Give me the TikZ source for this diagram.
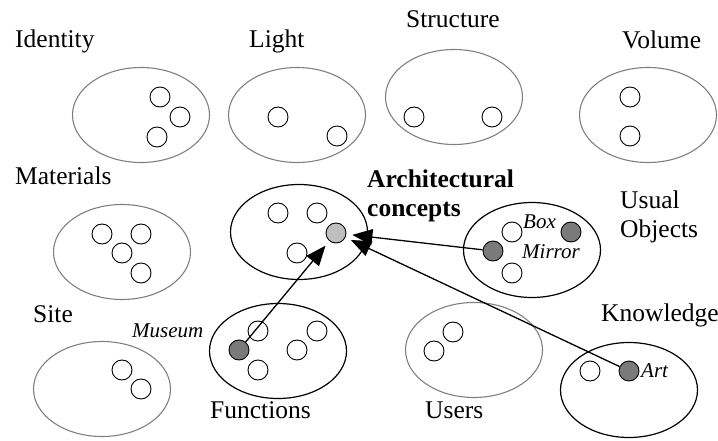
\documentclass[tikz,border=0pt]{standalone}
\usepackage{fontspec}
\setmainfont{Liberation Serif}
\usetikzlibrary{shapes.geometric,arrows.meta}

\tikzset{
  cset/.style={ellipse, draw=black!50, line width=1.1pt, inner sep=0pt,
               minimum width=137pt, minimum height=95pt},
  cactive/.style={cset, draw=black, line width=1.2pt},
  cmember/.style={circle, draw=black, line width=0.9pt, inner sep=0pt,
                  minimum size=20pt, fill=white},
  cpicked/.style={cmember, fill=black!52},
  ctarget/.style={cmember, fill=black!25},
  ctitle/.style={anchor=base west, inner sep=0pt,
                 font=\fontsize{25.5}{29}\selectfont},
  cbold/.style={ctitle, font=\fontsize{25.5}{29}\selectfont\bfseries},
  ctag/.style={anchor=base west, inner sep=0pt,
               font=\fontsize{21}{24}\selectfont\itshape},
  clink/.style={line width=1.3pt, shorten >=6pt,
                -{Triangle[length=20pt,width=16pt]}},
}

\begin{document}
\begin{tikzpicture}[x=1pt,y=-1pt]
\useasboundingbox (0,0) rectangle (718,441);

% ---- top row ----
\node[cset] (identity) at (141,115) {};
\node[cmember] (id1) at (160,97) {};
\node[cmember] (id2) at (180,117) {};
\node[cmember] (id3) at (157,137) {};
\node[ctitle] (identityT) at (15,48) {Identity};

\node[cset] (light) at (297,115) {};
\node[cmember] (li1) at (278,117) {};
\node[cmember] (li2) at (337,136) {};
\node[ctitle] (lightT) at (249,48) {Light};

\node[cset] (structure) at (454,97) {};
\node[cmember] (st1) at (414,117) {};
\node[cmember] (st2) at (492,117) {};
\node[ctitle] (structureT) at (406,28) {Structure};

\node[cset] (volume) at (648,115) {};
\node[cmember] (vo1) at (630,97) {};
\node[cmember] (vo2) at (630,136) {};
\node[ctitle] (volumeT) at (622,49) {Volume};

% ---- middle row ----
\node[cset] (materials) at (122,252) {};
\node[cmember] (ma1) at (102,234) {};
\node[cmember] (ma2) at (141,234) {};
\node[cmember] (ma3) at (122,253) {};
\node[cmember] (ma4) at (141,273) {};
\node[ctitle] (materialsT) at (15,185) {Materials};

\node[cactive] (arch) at (299,232) {};
\node[cmember] (ar1) at (278,213) {};
\node[cmember] (ar2) at (317,213) {};
\node[cmember] (ar3) at (297,253) {};
\node[ctarget] (concept) at (336,233) {};
\node[cbold] (archT1) at (367,188) {Architectural};
\node[cbold] (archT2) at (367,217) {concepts};

\node[cactive] (objects) at (532,250) {};
\node[cmember] (ob1) at (512,232) {};
\node[cpicked] (box) at (571,232) {};
\node[cpicked] (mirror) at (493,251) {};
\node[cmember] (ob2) at (512,273) {};
\node[ctag] (boxT) at (523,228) {Box};
\node[ctag] (mirrorT) at (522,258) {Mirror};
\node[ctitle] (objectsT1) at (620,208) {Usual};
\node[ctitle] (objectsT2) at (620,237) {Objects};

% ---- bottom row ----
\node[cset] (site) at (102,389) {};
\node[cmember] (si1) at (122,370) {};
\node[cmember] (si2) at (141,389) {};
\node[ctitle] (siteT) at (33,322) {Site};

\node[cactive] (functions) at (278,351) {};
\node[cmember] (fu1) at (258,331) {};
\node[cmember] (fu2) at (317,331) {};
\node[cmember] (fu3) at (297,350) {};
\node[cmember] (fu4) at (258,370) {};
\node[cpicked] (museum) at (239,350) {};
\node[ctag] (museumT) at (132,337) {Museum};
\node[ctitle] (functionsT) at (210,418) {Functions};

\node[cset] (users) at (474,350) {};
\node[cmember] (us1) at (453,332) {};
\node[cmember] (us2) at (434,351) {};
\node[ctitle] (usersT) at (425,418) {Users};

\node[cactive] (knowledge) at (629,390) {};
\node[cmember] (kn1) at (590,371) {};
\node[cpicked] (art) at (629,371) {};
\node[ctag] (artT) at (641,377) {Art};
\node[ctitle] (knowledgeT) at (601,321) {Knowledge};

% ---- links into the architectural concept ----
\draw[clink] (museum) -- (concept);
\draw[clink] (mirror) -- (concept);
\draw[clink] (art) -- (concept);
\end{tikzpicture}
\end{document}
